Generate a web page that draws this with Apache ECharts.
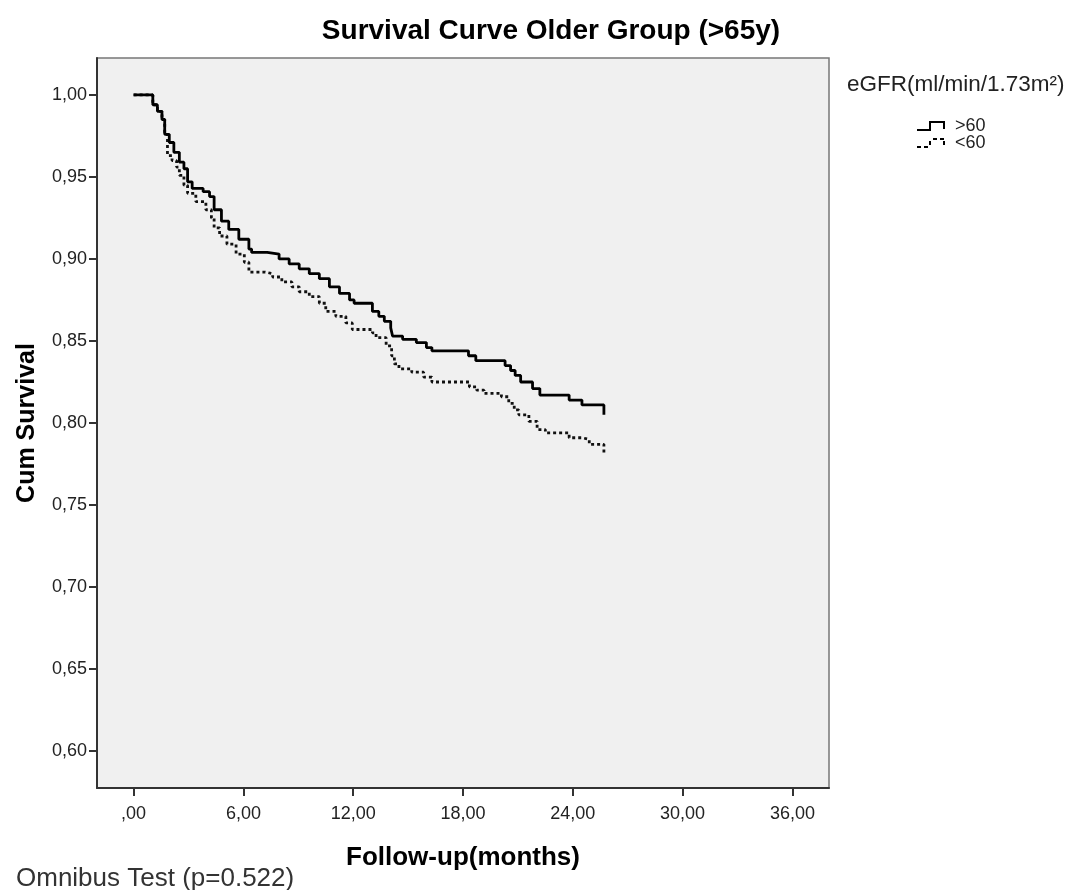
<!DOCTYPE html>
<html>
<head>
<meta charset="utf-8">
<script src="https://cdn.jsdelivr.net/npm/echarts@6/dist/echarts.min.js"></script>
<style>html,body{margin:0;padding:0;background:#fff}#c{width:1068px;height:890px}</style>
</head>
<body>
<div id="c"></div>
<script>
// Kaplan-Meier step data: [time (months), cumulative survival after event]
const seriesNames = ['>60', '<60'];
const survAbove60 = [
  [0,1.000],[1.05,0.994],[1.3,0.990],[1.55,0.985],[1.7,0.976],[1.95,0.971],[2.2,0.965],[2.5,0.959],
  [2.75,0.955],[2.95,0.947],[3.2,0.943],[3.8,0.941],[4.15,0.938],[4.4,0.930],[4.8,0.923],[5.2,0.918],
  [5.75,0.912],[6.3,0.906],[6.45,0.904],[7.3,0.903],[7.95,0.900],[8.5,0.897],[9.05,0.894],[9.6,0.891],
  [10.15,0.888],[10.7,0.883],[11.25,0.879],[11.8,0.875],[12.05,0.873],[13.05,0.868],[13.4,0.865],
  [13.7,0.862],[14.05,0.858],[14.15,0.853],[14.7,0.851],[15.45,0.849],[16.0,0.846],[16.3,0.844],
  [18.3,0.841],[18.7,0.838],[20.3,0.835],[20.6,0.832],[20.85,0.829],[21.15,0.825],[21.8,0.821],
  [22.2,0.817],[23.8,0.814],[24.5,0.811],[25.7,0.805]
];
const survBelow60 = [
  [0,1.000],[1.05,0.994],[1.3,0.990],[1.55,0.985],[1.7,0.976],[1.85,0.963],[2.1,0.960],[2.35,0.956],
  [2.5,0.951],[2.75,0.945],[2.95,0.940],[3.4,0.935],[3.95,0.930],[4.25,0.925],[4.4,0.919],[4.7,0.914],
  [5.1,0.909],[5.6,0.903],[6.05,0.898],[6.3,0.892],[7.2,0.891],[7.6,0.889],[8.1,0.886],[8.65,0.883],
  [9.05,0.880],[9.6,0.877],[10.15,0.873],[10.5,0.868],[11.05,0.865],[11.6,0.861],[11.95,0.857],
  [13.05,0.855],[13.25,0.852],[13.8,0.847],[14.1,0.841],[14.25,0.836],[14.5,0.833],[15.2,0.831],
  [15.85,0.828],[16.3,0.825],[18.35,0.822],[18.75,0.820],[19.15,0.818],[20.1,0.816],[20.5,0.812],
  [20.8,0.808],[21.05,0.805],[21.6,0.801],[22.05,0.796],[22.5,0.794],[23.8,0.791],[24.5,0.790],
  [24.9,0.787],[25.7,0.781]
];
const xTicks = [0, 6, 12, 18, 24, 30, 36];
const yTicks = [0.60, 0.65, 0.70, 0.75, 0.80, 0.85, 0.90, 0.95, 1.00];

const fmt = v => {
  let s = Number(v).toFixed(2).replace('.', ',');
  if (Number(v) === 0) s = ',00';
  return s;
};

const FONT = '"Liberation Sans", Arial, sans-serif';
const chart = echarts.init(document.getElementById('c'), null, {renderer: 'canvas'});
chart.setOption({
  backgroundColor: '#ffffff',
  animation: false,
  title: [
    {text: 'Survival Curve Older Group (>65y)', left: 546, top: 12, textAlign: 'center',
     textStyle: {fontFamily: FONT, fontSize: 28, fontWeight: 'bold', color: '#000'}},
    {text: 'eGFR(ml/min/1.73m²)', left: 842, top: 68,
     textStyle: {fontFamily: FONT, fontSize: 22.5, fontWeight: 'normal', color: '#222'}},
    {text: 'Omnibus Test (p=0.522)', left: 11, top: 861,
     textStyle: {fontFamily: FONT, fontSize: 26, fontWeight: 'normal', color: '#333'}}
  ],
  legend: {
    left: 917, top: 117, orient: 'vertical', itemGap: -1, padding: 0,
    itemWidth: 28, itemHeight: 10,
    textStyle: {fontFamily: FONT, fontSize: 18, lineHeight: 15, color: '#222', padding: [0,0,0,5]},
    data: [
      {name: seriesNames[0], icon: 'path://M0 8H12V0H28V8H26V2H14V10H0Z'},
      {name: seriesNames[1], icon: 'path://M0 8H4V10H0ZM7 8H11V10H7ZM12 3H14V7H12ZM16 0H20V2H16ZM23 0H27V2H23ZM26 3H28V7H26Z'}
    ],
    itemStyle: {color: '#000'}
  },
  grid: {left: 97, right: 239, top: 58, bottom: 102, show: true,
         backgroundColor: '#f0f0f0', borderColor: '#777', borderWidth: 1.5},
  xAxis: {
    type: 'value', min: -2, max: 38,
    name: 'Follow-up(months)', nameLocation: 'middle', nameGap: 57,
    nameTextStyle: {fontFamily: FONT, fontSize: 26, fontWeight: 'bold', color: '#000'},
    axisLine: {show: true, onZero: false, lineStyle: {color: '#333', width: 2}},
    axisTick: {show: true, length: 8, customValues: xTicks, lineStyle: {color: '#333', width: 2}},
    axisLabel: {customValues: xTicks, formatter: fmt, margin: 17,
                fontFamily: FONT, fontSize: 18, color: '#222'},
    splitLine: {show: false}
  },
  yAxis: {
    type: 'value', min: 0.5775, max: 1.0225,
    name: 'Cum Survival', nameLocation: 'middle', nameGap: 57,
    nameTextStyle: {fontFamily: FONT, fontSize: 25, fontWeight: 'bold', color: '#000'},
    axisLine: {show: true, onZero: false, lineStyle: {color: '#333', width: 2}},
    axisTick: {show: true, length: 8, customValues: yTicks, lineStyle: {color: '#333', width: 2}},
    axisLabel: {customValues: yTicks, formatter: fmt, margin: 10,
                fontFamily: FONT, fontSize: 18, color: '#222'},
    splitLine: {show: false}
  },
  series: [
    {name: seriesNames[0], type: 'line', step: 'end', data: survAbove60, showSymbol: false,
     lineStyle: {color: '#000', width: 2.8}, itemStyle: {color: '#000'}, z: 3},
    {name: seriesNames[1], type: 'line', step: 'end', data: survBelow60, showSymbol: false,
     lineStyle: {color: '#111', width: 2.8, type: [3, 3]}, itemStyle: {color: '#000'}, z: 2}
  ]
});
</script>
</body>
</html>
